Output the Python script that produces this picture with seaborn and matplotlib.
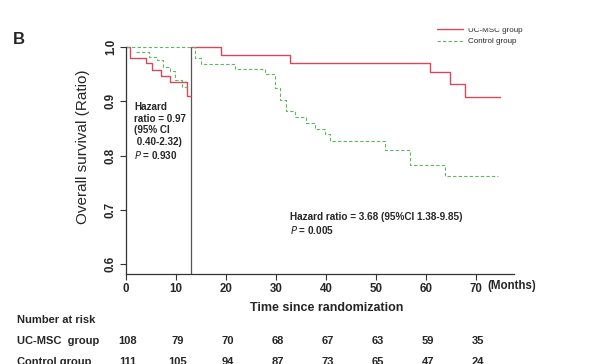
import numpy as np
import pandas as pd
import matplotlib
matplotlib.use("Agg")
import matplotlib.pyplot as plt
import seaborn as sns
from matplotlib.lines import Line2D
from matplotlib.patches import Rectangle

sns.set_style("white")
plt.rcParams["font.family"] = ["Liberation Sans", "DejaVu Sans"]

# UC-MSC group, first 13 months
msc_early_t = [0, 0.8, 4, 5.1, 7, 8.8, 12.1, 13]
msc_early_s = [1.0, 0.98, 0.97, 0.958, 0.946, 0.935, 0.909, 0.909]
# control group, first 13 months
ctrl_early_t = [2, 4.5, 6.1, 7.4, 8.8, 9.8, 11.1, 12.4]
ctrl_early_s = [0.991, 0.981, 0.976, 0.964, 0.955, 0.94, 0.926, 0.926]

# landmark curves after 13 months
msc_late_t = [13, 19, 32.8, 60.8, 64.8, 67.8, 74.8]
msc_late_s = [1.0, 0.985, 0.97, 0.954, 0.932, 0.908, 0.908]
ctrl_late_t = [0, 13.8, 14.9, 21.8, 27.8, 29.8, 30.8, 32, 33.8, 36, 37.8,
               39.8, 40.8, 51.8, 56.8, 63.8, 74.4]
ctrl_late_s = [1.0, 0.979, 0.968, 0.96, 0.95, 0.924, 0.903, 0.883, 0.872,
               0.86, 0.849, 0.839, 0.826, 0.811, 0.783, 0.762, 0.762]

landmark = 13
risk_times = [0, 10, 20, 30, 40, 50, 60, 70]
risk_msc = [108, 79, 70, 68, 67, 63, 59, 35]
risk_ctrl = [111, 105, 94, 87, 73, 65, 47, 24]

red = "#d8485a"
green = "#5cb85c"

fig = plt.figure(figsize=(5.97, 3.64), dpi=100)
ax = fig.add_axes([126 / 597, 1 - 274 / 364, (514 - 126) / 597, (274 - 47) / 364])

for t, s, c in [(msc_early_t, msc_early_s, red),
                (msc_late_t, msc_late_s, red),
                (ctrl_early_t, ctrl_early_s, green),
                (ctrl_late_t, ctrl_late_s, green)]:
    sns.lineplot(x=t, y=s, ax=ax, color=c, lw=1.0,
                 drawstyle="steps-post", estimator=None, sort=False,
                 clip_on=False)
for ln in ax.lines:
    if ln.get_color() == green:
        ln.set_linestyle((0, (3, 2)))
        ln.set_linewidth(0.8)

ax.axvline(landmark, color="#555555", lw=0.9, zorder=1)

ax.set_xlim(0, 77.6)
ax.set_ylim(0.582, 1.0)
sns.despine(ax=ax)
for sp in ["left", "bottom"]:
    ax.spines[sp].set_color("#333333")
    ax.spines[sp].set_linewidth(0.9)
ax.set_xticks(risk_times)
ax.set_yticks([0.6, 0.7, 0.8, 0.9, 1.0])
ax.set_yticklabels(["0.6", "0.7", "0.8", "0.9", "1.0"], rotation=90, va="center")
ax.tick_params(axis="both", length=4, width=0.8, color="#333333",
               labelsize=8.3, pad=2.5, left=True, bottom=True)
for lab in ax.get_xticklabels() + ax.get_yticklabels():
    lab.set_fontweight("bold")

ax.text(72.3, -12.5 / 227, "(Months)", transform=ax.get_xaxis_transform(),
        fontsize=8.3, fontweight="bold", ha="left", va="center")
ax.set_xlabel("Time since randomization", fontsize=9, fontweight="bold")
ax.xaxis.set_label_coords(0.518, -0.125)
ax.set_ylabel("Overall survival (Ratio)", fontsize=11)
ax.yaxis.set_label_coords(-0.092, 0.56)

ax.text(1.6, 0.899, "Hazard\nratio = 0.97\n(95% CI\n 0.40-2.32)\n$\\it{P}$ = 0.930",
        fontsize=7.1, fontweight="bold", ha="left", va="top", linespacing=1.22)
ax.text(32.8, 0.696, "Hazard ratio = 3.68 (95%CI 1.38-9.85)\n$\\it{P}$ = 0.005",
        fontsize=7.2, fontweight="bold", ha="left", va="top", linespacing=1.22)

handles = [Line2D([], [], color=red, lw=1.0),
           Line2D([], [], color=green, lw=0.8, linestyle=(0, (3, 2)))]
fig.legend(handles, ["UC-MSC group", "Control group"], loc="upper left",
           bbox_to_anchor=(433 / 597, 1 - 22 / 364), frameon=False,
           fontsize=5.8, handlelength=3.2, handletextpad=0.6,
           labelspacing=0.5, borderpad=0)
# top of the source image is cut off
fig.patches.append(Rectangle((0, 1 - 26.5 / 364), 1, 26.5 / 364,
                             transform=fig.transFigure, color="white",
                             zorder=10))

fig.text(13 / 597, 1 - 40 / 364, "B", fontsize=12, fontweight="bold",
         va="center", ha="left")

# number at risk table
fig.text(17 / 597, 1 - 320 / 364, "Number at risk", fontsize=8,
         fontweight="bold", va="center")
row_y = [1 - 341 / 364, 1 - 362 / 364]
for y, name, vals in [(row_y[0], "UC-MSC  group", risk_msc),
                      (row_y[1], "Control group", risk_ctrl)]:
    fig.text(17 / 597, y, name, fontsize=8, fontweight="bold", va="center")
    for t, v in zip(risk_times, vals):
        xf = fig.transFigure.inverted().transform(
            ax.transData.transform((t, 0.6)))[0]
        fig.text(xf + 2 / 597, y, str(v), fontsize=8, fontweight="bold",
                 va="center", ha="center")

fig.savefig("out.png", dpi=100)
